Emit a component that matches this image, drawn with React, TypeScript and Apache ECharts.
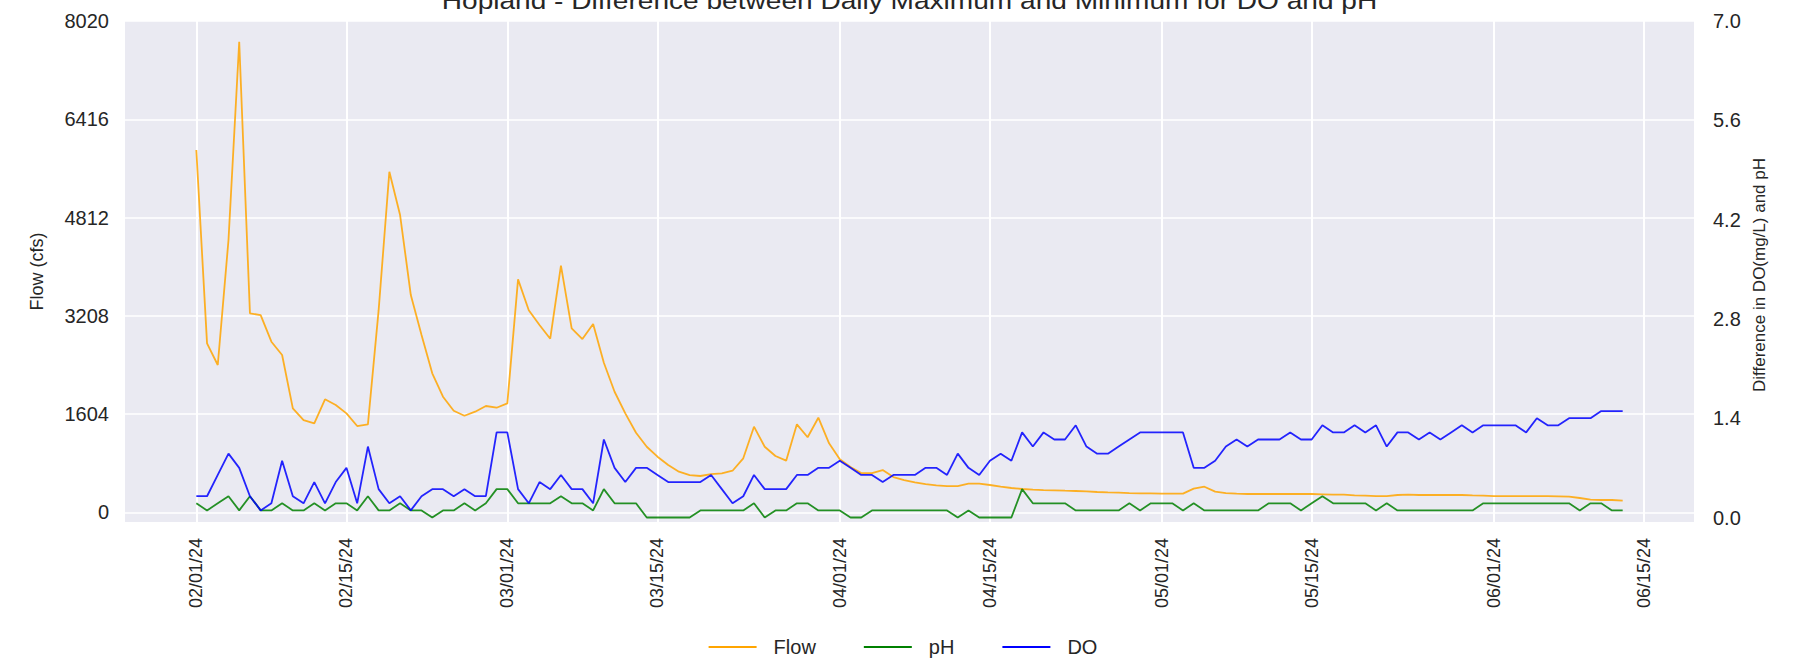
import React, { useEffect, useRef } from "react";
import * as echarts from "echarts";

const START_DATE = [2024, 1, 1]; // Feb 1, 2024 (UTC, month 0-based)
const seriesNames = ["Flow", "pH", "DO"];

const flow = [
  5915, 2758, 2405, 4446, 7684, 3249, 3221, 2786, 2568, 1698,
  1507, 1453, 1845, 1752, 1616, 1409, 1437, 3300, 5561, 4854,
  3548, 2895, 2269, 1888, 1659, 1577, 1643, 1736, 1708, 1780,
  3804, 3300, 3058, 2835, 4027, 3004, 2829, 3074, 2443, 1969,
  1616, 1300, 1071, 908, 772, 663, 609, 593, 625, 637,
  679, 882, 1398, 1071, 919, 843, 1437, 1225, 1545, 1127,
  865, 740, 640, 640, 690, 575, 527, 490, 462, 440,
  429, 429, 467, 467, 446, 418, 397, 381, 370, 364,
  359, 353, 348, 343, 332, 326, 321, 315, 310, 310,
  305, 305, 305, 386, 418, 337, 315, 305, 299, 299,
  299, 299, 299, 299, 299, 294, 288, 288, 277, 272,
  266, 266, 283, 288, 283, 283, 283, 283, 283, 277,
  272, 266, 266, 266, 266, 266, 266, 261, 255, 234,
  207, 201, 201, 190,
];

const ph = [
  0.2, 0.1, 0.2, 0.3, 0.1, 0.3, 0.1, 0.1, 0.2, 0.1,
  0.1, 0.2, 0.1, 0.2, 0.2, 0.1, 0.3, 0.1, 0.1, 0.2,
  0.1, 0.1, 0.0, 0.1, 0.1, 0.2, 0.1, 0.2, 0.4, 0.4,
  0.2, 0.2, 0.2, 0.2, 0.3, 0.2, 0.2, 0.1, 0.4, 0.2,
  0.2, 0.2, 0.0, 0.0, 0.0, 0.0, 0.0, 0.1, 0.1, 0.1,
  0.1, 0.1, 0.2, 0.0, 0.1, 0.1, 0.2, 0.2, 0.1, 0.1,
  0.1, 0.0, 0.0, 0.1, 0.1, 0.1, 0.1, 0.1, 0.1, 0.1,
  0.1, 0.0, 0.1, 0.0, 0.0, 0.0, 0.0, 0.4, 0.2, 0.2,
  0.2, 0.2, 0.1, 0.1, 0.1, 0.1, 0.1, 0.2, 0.1, 0.2,
  0.2, 0.2, 0.1, 0.2, 0.1, 0.1, 0.1, 0.1, 0.1, 0.1,
  0.2, 0.2, 0.2, 0.1, 0.2, 0.3, 0.2, 0.2, 0.2, 0.2,
  0.1, 0.2, 0.1, 0.1, 0.1, 0.1, 0.1, 0.1, 0.1, 0.1,
  0.2, 0.2, 0.2, 0.2, 0.2, 0.2, 0.2, 0.2, 0.2, 0.1,
  0.2, 0.2, 0.1, 0.1,
];

const doDiff = [
  0.3, 0.3, 0.6, 0.9, 0.7, 0.3, 0.1, 0.2, 0.8, 0.3,
  0.2, 0.5, 0.2, 0.5, 0.7, 0.2, 1.0, 0.4, 0.2, 0.3,
  0.1, 0.3, 0.4, 0.4, 0.3, 0.4, 0.3, 0.3, 1.2, 1.2,
  0.4, 0.2, 0.5, 0.4, 0.6, 0.4, 0.4, 0.2, 1.1, 0.7,
  0.5, 0.7, 0.7, 0.6, 0.5, 0.5, 0.5, 0.5, 0.6, 0.4,
  0.2, 0.3, 0.6, 0.4, 0.4, 0.4, 0.6, 0.6, 0.7, 0.7,
  0.8, 0.7, 0.6, 0.6, 0.5, 0.6, 0.6, 0.6, 0.7, 0.7,
  0.6, 0.9, 0.7, 0.6, 0.8, 0.9, 0.8, 1.2, 1.0, 1.2,
  1.1, 1.1, 1.3, 1.0, 0.9, 0.9, 1.0, 1.1, 1.2, 1.2,
  1.2, 1.2, 1.2, 0.7, 0.7, 0.8, 1.0, 1.1, 1.0, 1.1,
  1.1, 1.1, 1.2, 1.1, 1.1, 1.3, 1.2, 1.2, 1.3, 1.2,
  1.3, 1.0, 1.2, 1.2, 1.1, 1.2, 1.1, 1.2, 1.3, 1.2,
  1.3, 1.3, 1.3, 1.3, 1.2, 1.4, 1.3, 1.3, 1.4, 1.4,
  1.4, 1.5, 1.5, 1.5,
];

const xTickLabels = [
  "02/01/24", "02/15/24", "03/01/24", "03/15/24", "04/01/24",
  "04/15/24", "05/01/24", "05/15/24", "06/01/24", "06/15/24",
];
const flowTicks = [0, 1604, 3208, 4812, 6416, 8020];
const diffTicks = [0, 1.4, 2.8, 4.2, 5.6, 7.0];

const TITLE = "Hopland - Difference between Daily Maximum and Minimum for DO and pH";
const LEFT_TITLE = "Flow (cfs)";
const RIGHT_TITLE = "Difference in DO(mg/L) and pH";

const DAY = 86400000;
const FONT = "'Liberation Sans', Arial, Helvetica, sans-serif";
const TEXT = "#262626";

function parseLabel(s: string): number {
  const [mm, dd, yy] = s.split("/").map(Number);
  return Date.UTC(2000 + yy, mm - 1, dd);
}
function fmt(t: number): string {
  const d = new Date(t);
  const p = (n: number) => String(n).padStart(2, "0");
  return `${p(d.getUTCMonth() + 1)}/${p(d.getUTCDate())}/${p(d.getUTCFullYear() % 100)}`;
}

export default function App() {
  const ref = useRef<HTMLDivElement>(null);
  useEffect(() => {
    document.body.style.margin = "0";
    if (!ref.current) return;
    const chart = echarts.init(ref.current, undefined, { renderer: "svg" });
    const t0 = Date.UTC(START_DATE[0], START_DATE[1], START_DATE[2]);
    const dates = flow.map((_, i) => t0 + i * DAY);
    const n = dates.length - 1;
    const xTicks = xTickLabels.map(parseLabel);

    const mk = (name: string, data: number[], color: string, yAxisIndex: number) => ({
      name,
      type: "line",
      yAxisIndex,
      symbol: "none",
      data: dates.map((t, i) => [t, data[i]]),
      itemStyle: { color },
      lineStyle: { color, width: 1.8, opacity: 0.85 },
      z: 3,
    });

    chart.setOption({
      animation: false,
      textStyle: { fontFamily: FONT },
      grid: {
        left: 125,
        right: 112,
        top: 21,
        height: 501,
        show: true,
        backgroundColor: "#EAEAF2",
        borderWidth: 0,
      },
      legend: {
        data: seriesNames.map((name) => ({ name, icon: "rect" })),
        top: 632,
        left: "center",
        itemWidth: 48,
        itemHeight: 2,
        itemGap: 48,
        textStyle: { fontSize: 20, color: TEXT, fontFamily: FONT, padding: [0, 0, 0, 12] },
      },
      xAxis: {
        type: "value",
        min: t0 - n * 0.05 * DAY,
        max: t0 + n * 1.05 * DAY,
        axisLine: { show: false },
        axisTick: { show: false, customValues: xTicks },
        axisLabel: {
          customValues: xTicks,
          rotate: 90,
          margin: 16,
          fontSize: 18,
          color: TEXT,
          fontFamily: FONT,
          formatter: (v: number) => fmt(v),
        },
        splitLine: { show: true, lineStyle: { color: "#FFFFFF", width: 2 } },
      },
      yAxis: [
        {
          type: "value",
          position: "left",
          min: -158,
          max: 8022,
          axisLine: { show: false },
          axisTick: { show: false, customValues: flowTicks },
          axisLabel: {
            customValues: flowTicks,
            margin: 16,
            fontSize: 20,
            color: TEXT,
            fontFamily: FONT,
            formatter: (v: number) => String(Math.round(v)),
          },
          splitLine: { show: true, lineStyle: { color: "#FFFFFF", width: 1.5 } },
        },
        {
          type: "value",
          position: "right",
          min: -0.0634,
          max: 7.0,
          axisLine: { show: false },
          axisTick: { show: false, customValues: diffTicks },
          axisLabel: {
            customValues: diffTicks,
            margin: 19,
            fontSize: 20,
            color: TEXT,
            fontFamily: FONT,
            formatter: (v: number) => v.toFixed(1),
          },
          splitLine: { show: false },
        },
      ],
      graphic: [
        {
          type: "text",
          x: 909.5,
          y: 1,
          scaleX: 1.17,
          style: {
            text: TITLE,
            fontSize: 24,
            fontFamily: FONT,
            fill: TEXT,
            align: "center",
            verticalAlign: "middle",
          },
        },
        {
          type: "text",
          x: 37,
          y: 271.5,
          rotation: Math.PI / 2,
          style: {
            text: LEFT_TITLE,
            fontSize: 18,
            fontFamily: FONT,
            fill: TEXT,
            align: "center",
            verticalAlign: "middle",
          },
        },
        {
          type: "text",
          x: 1759,
          y: 275,
          rotation: Math.PI / 2,
          style: {
            text: RIGHT_TITLE,
            fontSize: 17,
            fontFamily: FONT,
            fill: TEXT,
            align: "center",
            verticalAlign: "middle",
          },
        },
      ],
      series: [
        mk(seriesNames[0], flow, "#FFA500", 0),
        mk(seriesNames[1], ph, "#008000", 1),
        mk(seriesNames[2], doDiff, "#0000FF", 1),
      ],
    });
    return () => chart.dispose();
  }, []);
  return <div ref={ref} style={{ width: "1806px", height: "661px" }} />;
}
